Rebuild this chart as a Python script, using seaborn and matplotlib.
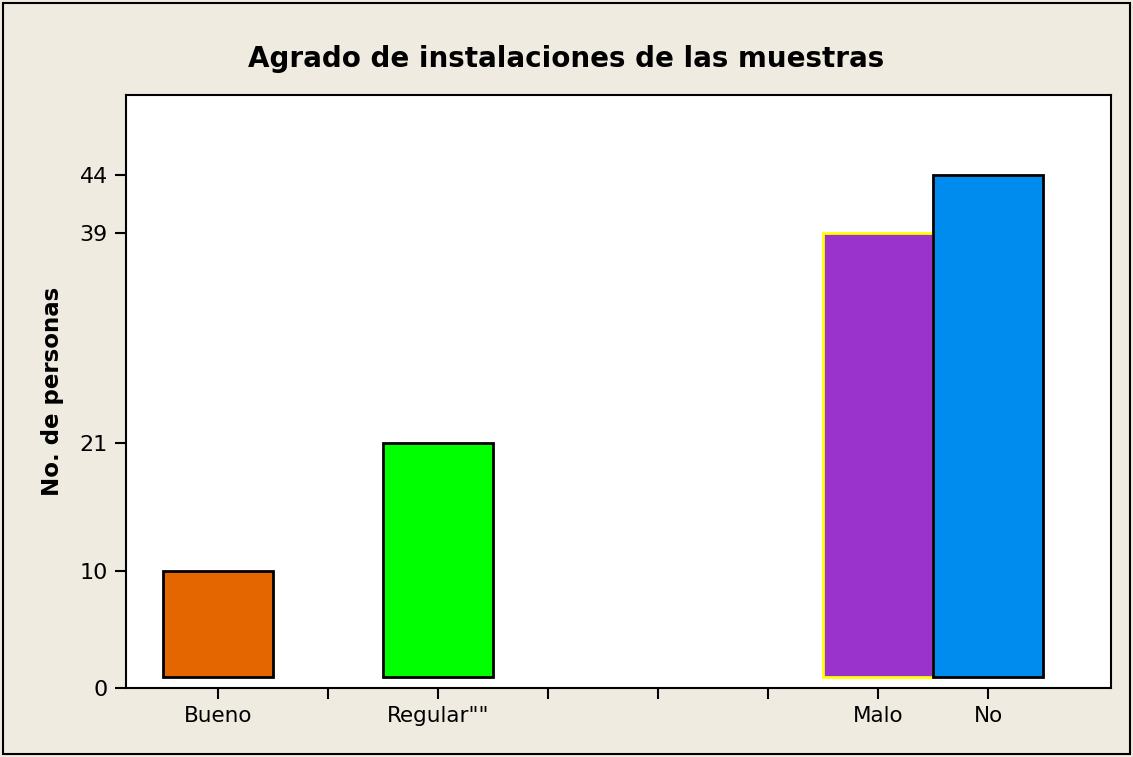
import seaborn as sns
import pandas as pd
import matplotlib.pyplot as plt
from matplotlib.patches import Rectangle

BG = "#EFEBE0"

# data (empty slots keep the Minitab spacing)
slots = ["Bueno", "_1", 'Regular""', "_3", "_4", "_5", "Malo", "No"]
slot_labels = ["Bueno", "", 'Regular""', "", "", "", "Malo", "No"]
values = [10, 0, 21, 0, 0, 0, 39, 44]
bar_colors = ["#E46600", "#FFFFFF", "#00FF00", "#FFFFFF", "#FFFFFF", "#FFFFFF", "#9933CC", "#008CEE"]
edge_colors = ["black", "none", "black", "none", "none", "none", "#FFFF00", "black"]
y_ticks = [0, 10, 21, 39, 44]

df = pd.DataFrame({"slot": slots, "count": values})

sns.set_theme(style="white")
plt.rcParams["font.family"] = ["DejaVu Sans"]
plt.rcParams["text.color"] = "black"
plt.rcParams["xtick.color"] = "black"
plt.rcParams["ytick.color"] = "black"
plt.rcParams["axes.labelcolor"] = "black"

fig = plt.figure(figsize=(11.33, 7.57), dpi=100, facecolor=BG)
ax = fig.add_axes([126 / 1133, 1 - 688 / 757, (1111 - 126) / 1133, (688 - 95) / 757])

sns.barplot(data=df, x="slot", y="count", order=slots, hue="slot",
            palette=dict(zip(slots, bar_colors)), legend=False,
            width=1.0, saturation=1, ax=ax)

# Minitab draws the bars from a little above the axis
for patch, ec, v in zip(ax.patches, edge_colors, values):
    if v == 0:
        patch.set_visible(False)
        continue
    patch.set_edgecolor(ec)
    patch.set_linewidth(2)
    patch.set_y(0.95)
    patch.set_height(v - 0.95)

ax.set_xlim(-0.836, 8.118)
ax.set_ylim(0, 50.86)
ax.set_yticks(y_ticks)
ax.set_yticklabels([str(t) for t in y_ticks], fontsize=16)
ax.set_xticks(range(len(slots)))
ax.set_xticklabels(slot_labels, fontsize=15.5)
ax.tick_params(axis="both", direction="out", length=8, width=1.5, color="black",
               bottom=True, left=True, pad=5)
for s in ax.spines.values():
    s.set_color("black")
    s.set_linewidth(1.5)
ax.set_facecolor("white")
ax.set_xlabel("")
ax.set_ylabel("No. de personas", fontsize=16.5, fontweight="bold", labelpad=11)

fig.text(0.5, 1 - 59 / 757, "Agrado de instalaciones de las muestras",
         ha="center", va="center", fontsize=20, fontweight="bold")

fig.patches.append(Rectangle((3 / 1133, 3 / 757), 1 - 6 / 1133, 1 - 6 / 757,
                             transform=fig.transFigure, fill=False,
                             edgecolor="black", linewidth=1.5))

fig.savefig("out.png", dpi=100, facecolor=BG)
